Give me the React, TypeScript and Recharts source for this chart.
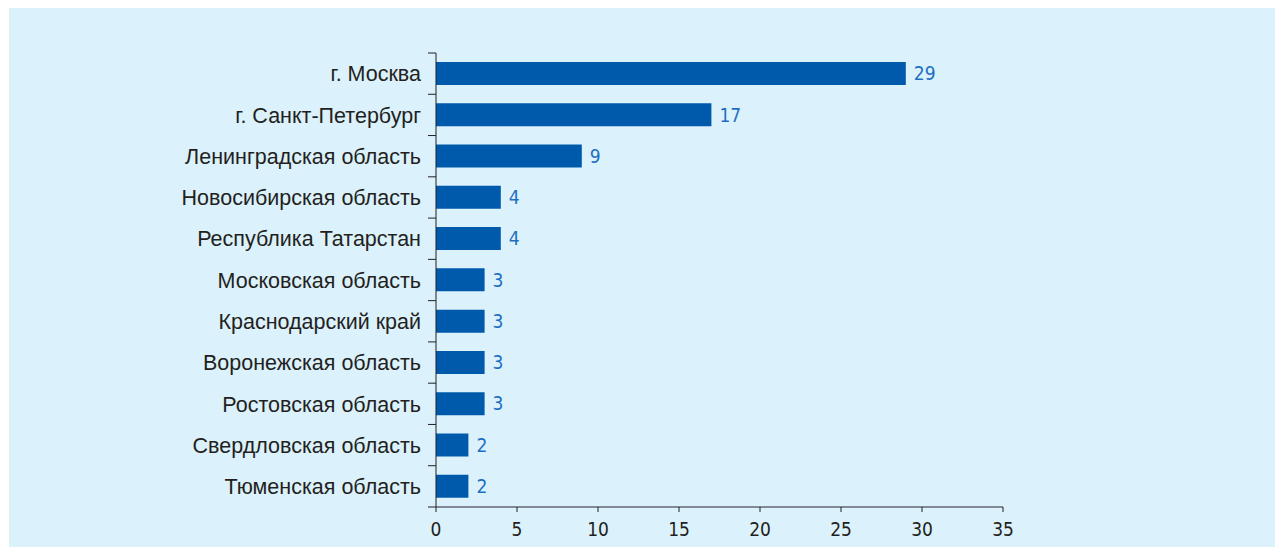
import { BarChart, Bar, XAxis, YAxis, LabelList } from "recharts";

const regions = [
    "г. Москва",
    "г. Санкт-Петербург",
    "Ленинградская область",
    "Новосибирская область",
    "Республика Татарстан",
    "Московская область",
    "Краснодарский край",
    "Воронежская область",
    "Ростовская область",
    "Свердловская область",
    "Тюменская область",
];
const counts = [29, 17, 9, 4, 4, 3, 3, 3, 3, 2, 2];
const xTicks = [0, 5, 10, 15, 20, 25, 30, 35];

const data = regions.map((name, i) => ({ name, value: counts[i] }));

const W = 1266;
const H = 539;
const TOP = 45;
const BOTTOM = 40;
const STEP = (H - TOP - BOTTOM) / regions.length;
const narrow = "'Liberation Sans Narrow', 'DejaVu Sans Condensed', sans-serif";

// category label plus a tick mark at the band edge (not the centre)
function RegionTick(props: any) {
    const { x, y, payload, index } = props;
    const axisX = x + 15;
    return (
        <g>
            <line x1={axisX - 8} x2={axisX} y1={y - STEP / 2} y2={y - STEP / 2} stroke="#231f20" />
            {index === regions.length - 1 && (
                <line x1={axisX - 8} x2={axisX} y1={y + STEP / 2} y2={y + STEP / 2} stroke="#231f20" />
            )}
            <text
                x={x}
                y={y}
                dy="0.36em"
                textAnchor="end"
                fill="#231f20"
                fontSize={21.5}
                fontFamily="'Liberation Sans', Arial, sans-serif"
            >
                {payload.value}
            </text>
        </g>
    );
}

export default function App() {
    return (
        <div style={{ position: "absolute", left: 0, top: 0, width: 1275, height: 547, background: "#fff" }}>
            <div style={{ position: "absolute", left: 9, top: 8, width: W, height: H, background: "#dbf1fc" }}>
                <BarChart
                    width={W}
                    height={H}
                    data={data}
                    layout="vertical"
                    margin={{ top: TOP, right: 272, bottom: 10, left: 0 }}
                >
                    <XAxis
                        type="number"
                        domain={[0, 35]}
                        ticks={xTicks}
                        height={30}
                        axisLine={{ stroke: "#7f8a94", strokeWidth: 2 }}
                        tickLine={{ stroke: "#231f20" }}
                        tickSize={5}
                        tickMargin={11}
                        tick={{ fill: "#231f20", fontSize: 19, fontFamily: narrow }}
                    />
                    <YAxis
                        type="category"
                        dataKey="name"
                        width={427}
                        axisLine={{ stroke: "#231f20" }}
                        tickLine={false}
                        tickSize={8}
                        tickMargin={7}
                        tick={<RegionTick />}
                        interval={0}
                    />
                    <Bar dataKey="value" fill="#005aab" barSize={23} isAnimationActive={false}>
                        <LabelList
                            dataKey="value"
                            position="right"
                            offset={8}
                            fill="#1d6fc1"
                            fontSize={19}
                            fontFamily={narrow}
                        />
                    </Bar>
                </BarChart>
            </div>
        </div>
    );
}
